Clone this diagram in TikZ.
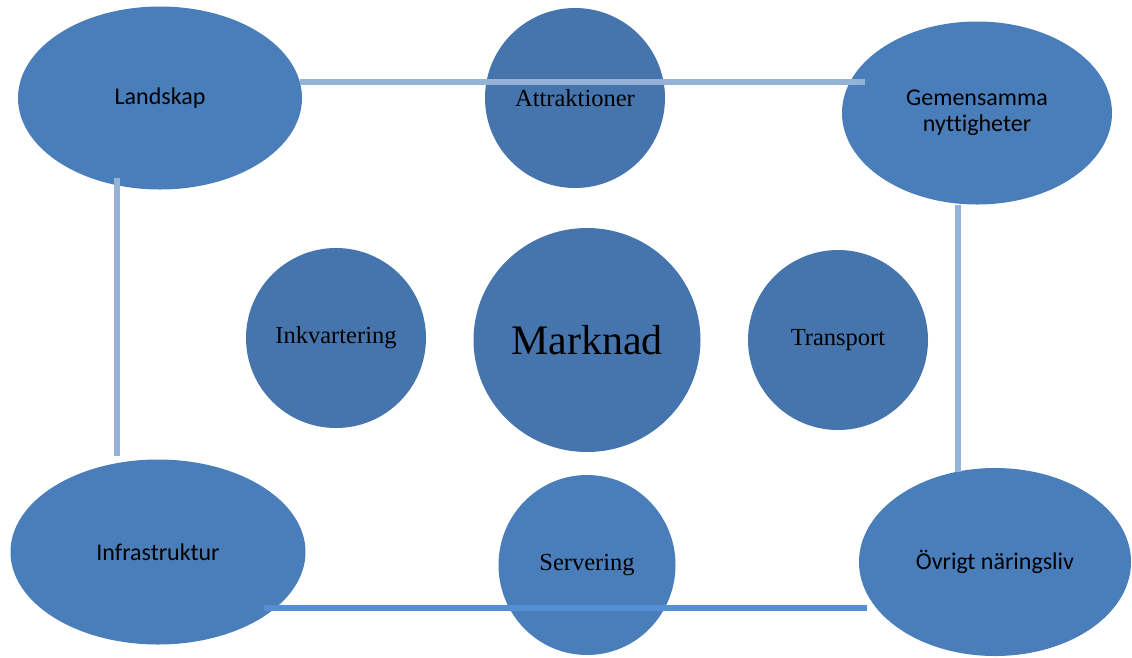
\documentclass[tikz,border=0pt]{standalone}
\usepackage{fontspec}
\setmainfont{Liberation Serif}
\newfontfamily\calfont[Ligatures=NoCommon]{Carlito}
\usepackage{xcolor}
\usepackage{tikz}
\usetikzlibrary{shapes.geometric}
\definecolor{outerblue}{HTML}{4A7EBB}
\definecolor{innerblue}{HTML}{4675AE}
\definecolor{framelight}{HTML}{95B3D7}
\definecolor{framedark}{HTML}{558ED5}

\begin{document}
\begin{tikzpicture}[
    x=1pt, y=-1pt,
    outer/.style={ellipse, fill=outerblue, inner sep=0pt, align=center, font=\calfont\fontsize{24}{26}\selectfont},
    inner/.style={ellipse, fill=innerblue, inner sep=0pt, align=center, font=\fontsize{24.5}{28}\selectfont},
    frame/.style={line width=5.5pt, draw=framelight},
    framebottom/.style={line width=6pt, draw=framedark}
]
\useasboundingbox (0,0) rectangle (1132,657);

% Corner areas
\node[outer, minimum width=284pt, minimum height=183pt] (land) at (160,98) {Landskap};
\node[outer, minimum width=270pt, minimum height=183pt] (gem) at (977,113) {Gemensamma\\nyttigheter};
\node[outer, minimum width=295pt, minimum height=185pt] (infra) at (158,552) {Infrastruktur};
\node[outer, minimum width=272pt, minimum height=188pt] (ovr) at (995,562) {Övrigt näringsliv};

% Inner circles
\node[inner, minimum width=180pt, minimum height=180pt] (attr) at (575,98) {Attraktioner};
\node[inner, minimum width=180pt, minimum height=180pt] (inkv) at (336,338) {Inkvartering};
\node[inner, minimum width=227pt, minimum height=224pt, font=\fontsize{42}{46}\selectfont] (mark) at (587,340) {Marknad};
\node[inner, minimum width=180pt, minimum height=180pt] (trans) at (838,340) {Transport};
\node[inner, fill=outerblue, minimum width=177pt, minimum height=180pt] (serv) at (587,565) {Servering};

% Frame lines
\draw[frame] ([shift={(-2,-16)}]land.east) -- ([shift={(23,-31)}]gem.west);
\draw[frame] ([shift={(-43,-12)}]land.south) -- ([shift={(-41,-3)}]infra.north);
\draw[frame] ([shift={(-19,0)}]gem.south) -- ([shift={(-37,4)}]ovr.north);
\draw[framebottom] ([shift={(-42,56)}]infra.east) -- ([shift={(8,46)}]ovr.west);

\end{tikzpicture}
\end{document}
